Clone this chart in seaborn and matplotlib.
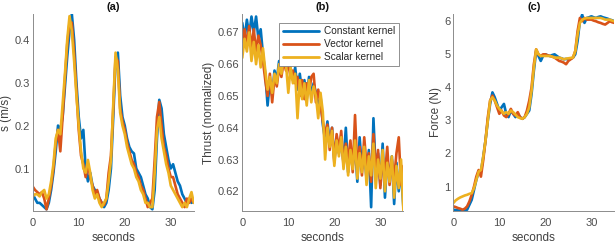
import numpy as np
import pandas as pd
import matplotlib
matplotlib.use("Agg")
import matplotlib.pyplot as plt
import seaborn as sns

# ---------------- data ----------------
time_s = np.arange(0, 35.01, 0.5)
series_names = ["Constant kernel", "Vector kernel", "Scalar kernel"]
colors = ["#0072BD", "#D95319", "#EDB120"]

# (a) speed s (m/s)
speed_constant = [0.040, 0.030, 0.020, 0.020, 0.015, 0.010, 0.005, 0.020, 0.050, 0.090,
                  0.140, 0.200, 0.190, 0.220, 0.290, 0.360, 0.420, 0.460, 0.400, 0.300,
                  0.220, 0.170, 0.190, 0.100, 0.070, 0.090, 0.060, 0.050, 0.045, 0.030,
                  0.020, 0.010, 0.020, 0.050, 0.100, 0.220, 0.350, 0.370, 0.270, 0.220,
                  0.200, 0.170, 0.150, 0.140, 0.135, 0.100, 0.090, 0.080, 0.060, 0.040,
                  0.030, 0.010, 0.005, 0.050, 0.170, 0.260, 0.240, 0.180, 0.150, 0.120,
                  0.100, 0.110, 0.090, 0.070, 0.060, 0.040, 0.030, 0.020, 0.030, 0.020,
                  0.025]
speed_vector = [0.058, 0.050, 0.045, 0.040, 0.045, 0.030, 0.005, 0.030, 0.060, 0.100,
                0.160, 0.190, 0.140, 0.220, 0.310, 0.390, 0.440, 0.440, 0.370, 0.280,
                0.190, 0.130, 0.110, 0.080, 0.110, 0.080, 0.060, 0.040, 0.050, 0.030,
                0.020, 0.015, 0.030, 0.090, 0.130, 0.240, 0.360, 0.350, 0.240, 0.210,
                0.190, 0.160, 0.140, 0.120, 0.110, 0.090, 0.080, 0.060, 0.050, 0.030,
                0.010, 0.020, 0.030, 0.120, 0.220, 0.255, 0.200, 0.150, 0.130, 0.100,
                0.080, 0.080, 0.060, 0.040, 0.030, 0.020, 0.010, 0.030, 0.020, 0.030,
                0.020]
speed_scalar = [0.035, 0.040, 0.040, 0.035, 0.045, 0.050, 0.030, 0.040, 0.070, 0.110,
                0.170, 0.190, 0.180, 0.250, 0.320, 0.400, 0.455, 0.420, 0.350, 0.270,
                0.200, 0.140, 0.100, 0.090, 0.120, 0.090, 0.050, 0.030, 0.040, 0.020,
                0.010, 0.020, 0.030, 0.070, 0.120, 0.250, 0.370, 0.330, 0.230, 0.200,
                0.180, 0.150, 0.130, 0.110, 0.100, 0.080, 0.070, 0.050, 0.040, 0.020,
                0.020, 0.010, 0.010, 0.090, 0.190, 0.220, 0.170, 0.140, 0.110, 0.090,
                0.060, 0.050, 0.040, 0.030, 0.020, 0.010, 0.020, 0.010, 0.030, 0.045,
                0.020]

# (b) thrust (normalized)
thrust_constant = [0.673, 0.668, 0.674, 0.669, 0.675, 0.670, 0.675, 0.668, 0.671, 0.663,
                   0.657, 0.647, 0.655, 0.650, 0.658, 0.655, 0.661, 0.658, 0.663, 0.659,
                   0.662, 0.658, 0.655, 0.659, 0.652, 0.657, 0.651, 0.655, 0.649, 0.656,
                   0.650, 0.654, 0.651, 0.646, 0.650, 0.641, 0.636, 0.642, 0.635, 0.640,
                   0.630, 0.637, 0.632, 0.636, 0.629, 0.640, 0.626, 0.634, 0.628, 0.635,
                   0.623, 0.637, 0.627, 0.632, 0.624, 0.633, 0.615, 0.643, 0.626, 0.632,
                   0.622, 0.635, 0.618, 0.630, 0.624, 0.631, 0.616, 0.629, 0.620, 0.627,
                   0.615]
thrust_vector = [0.667, 0.671, 0.666, 0.672, 0.665, 0.671, 0.664, 0.669, 0.666, 0.661,
                 0.655, 0.650, 0.657, 0.648, 0.656, 0.653, 0.659, 0.656, 0.661, 0.658,
                 0.660, 0.656, 0.658, 0.654, 0.656, 0.650, 0.655, 0.649, 0.654, 0.651,
                 0.656, 0.657, 0.648, 0.652, 0.647, 0.642, 0.638, 0.641, 0.633, 0.640,
                 0.629, 0.638, 0.633, 0.639, 0.628, 0.635, 0.630, 0.636, 0.626, 0.644,
                 0.627, 0.634, 0.625, 0.637, 0.628, 0.632, 0.623, 0.638, 0.626, 0.633,
                 0.621, 0.631, 0.625, 0.634, 0.622, 0.630, 0.624, 0.632, 0.637, 0.622,
                 0.628]
thrust_scalar = [0.662, 0.668, 0.664, 0.670, 0.661, 0.667, 0.660, 0.666, 0.659, 0.665,
                 0.658, 0.652, 0.656, 0.651, 0.657, 0.654, 0.660, 0.657, 0.662, 0.660,
                 0.651, 0.659, 0.654, 0.657, 0.643, 0.655, 0.649, 0.654, 0.647, 0.655,
                 0.648, 0.653, 0.650, 0.643, 0.651, 0.645, 0.630, 0.640, 0.634, 0.639,
                 0.628, 0.636, 0.631, 0.637, 0.627, 0.634, 0.625, 0.633, 0.627, 0.636,
                 0.624, 0.632, 0.626, 0.634, 0.622, 0.631, 0.625, 0.635, 0.621, 0.630,
                 0.624, 0.633, 0.620, 0.629, 0.623, 0.631, 0.618, 0.628, 0.621, 0.630,
                 0.614]

# (c) force (N)
force_constant = [0.30, 0.29, 0.28, 0.27, 0.27, 0.28, 0.30, 0.45, 0.60, 0.90,
                  1.20, 1.45, 1.45, 1.90, 2.40, 3.00, 3.50, 3.85, 3.70, 3.50,
                  3.30, 3.40, 3.50, 3.20, 3.10, 3.30, 3.20, 3.10, 3.20, 3.10,
                  3.05, 3.10, 3.20, 3.30, 3.80, 4.50, 5.10, 4.95, 4.80, 4.95,
                  5.00, 4.97, 4.95, 4.98, 5.00, 4.95, 4.90, 4.88, 4.85, 4.86,
                  4.85, 4.87, 4.90, 5.00, 5.40, 6.00, 6.20, 5.95, 6.10, 6.12,
                  6.15, 6.12, 6.10, 6.13, 6.15, 6.12, 6.10, 6.08, 6.05, 6.03,
                  6.00]
force_vector = [0.40, 0.38, 0.35, 0.33, 0.30, 0.33, 0.40, 0.55, 0.75, 1.00,
                1.30, 1.50, 1.30, 1.80, 2.40, 3.10, 3.60, 3.75, 3.60, 3.40,
                3.20, 3.30, 3.15, 3.10, 3.20, 3.35, 3.20, 3.15, 3.25, 3.10,
                3.05, 3.10, 3.30, 3.60, 4.00, 4.70, 5.15, 5.00, 4.95, 5.00,
                5.00, 4.97, 4.95, 4.93, 4.90, 4.85, 4.80, 4.78, 4.75, 4.70,
                4.80, 4.85, 4.90, 5.10, 5.70, 6.10, 6.00, 6.10, 6.05, 6.05,
                6.05, 6.02, 6.00, 5.97, 5.95, 5.92, 5.90, 5.95, 6.00, 5.97,
                5.95]
force_scalar = [0.50, 0.58, 0.63, 0.67, 0.70, 0.73, 0.75, 0.78, 0.80, 0.95,
                1.20, 1.45, 1.50, 1.90, 2.40, 3.00, 3.60, 3.70, 3.60, 3.45,
                3.35, 3.28, 3.20, 3.25, 3.20, 3.30, 3.25, 3.18, 3.10, 3.07,
                3.05, 3.10, 3.20, 3.40, 3.90, 4.60, 5.15, 5.00, 4.95, 4.95,
                4.95, 4.95, 4.95, 4.93, 4.90, 4.90, 4.90, 4.88, 4.85, 4.87,
                4.88, 4.89, 4.90, 5.10, 5.60, 5.95, 6.05, 6.08, 6.10, 6.10,
                6.10, 6.10, 6.10, 6.10, 6.10, 6.08, 6.05, 6.05, 6.05, 6.02,
                6.00]

x_ticks = [0, 10, 20, 30]
panels = [
    dict(title="(a)", ylabel="s (m/s)", series=[speed_constant, speed_vector, speed_scalar],
         ylim=(0.001, 0.46), yticks=[0.1, 0.2, 0.3, 0.4], yfmt="{:.1f}", legend=False),
    dict(title="(b)", ylabel="Thrust (normalized)", series=[thrust_constant, thrust_vector, thrust_scalar],
         ylim=(0.6138, 0.6758), yticks=[0.62, 0.63, 0.64, 0.65, 0.66, 0.67], yfmt="{:.2f}", legend=True),
    dict(title="(c)", ylabel="Force (N)", series=[force_constant, force_vector, force_scalar],
         ylim=(0.26, 6.22), yticks=[1, 2, 3, 4, 5, 6], yfmt="{:d}", legend=False),
]

# ---------------- style ----------------
sns.set_style("white")
plt.rcParams["font.family"] = ["Liberation Sans", "DejaVu Sans"]
plt.rcParams["font.size"] = 8

fig = plt.figure(figsize=(6.16, 2.43), dpi=100)
lefts = [0.0531, 0.3933, 0.7359]
bottom, height, width = 0.1317, 0.8107, 0.2615

tick_col = "#4d4d4d"
spine_col = "#8c8c8c"

for left, p in zip(lefts, panels):
    ax = fig.add_axes([left, bottom, width, height])
    df = pd.DataFrame({
        "time": np.concatenate([time_s] * 3),
        "value": np.concatenate([np.asarray(s) for s in p["series"]]),
        "kernel": np.repeat(series_names, len(time_s)),
    })
    sns.lineplot(data=df, x="time", y="value", hue="kernel", hue_order=series_names,
                 palette=colors, linewidth=1.9, ax=ax, legend=p["legend"],
                 estimator=None, sort=False)
    ax.set_xlim(0, 35)
    ax.set_ylim(*p["ylim"])
    ax.set_xticks(x_ticks)
    ax.set_yticks(p["yticks"])
    ax.set_yticklabels([p["yfmt"].format(v) for v in p["yticks"]])
    ax.set_xlabel("seconds", fontsize=8.5, color="#404040", labelpad=3)
    ax.set_ylabel(p["ylabel"], fontsize=8.5, color="#404040", labelpad=2)
    ax.set_title(p["title"], fontsize=8, fontweight="bold", pad=3, color="#111111")
    for side in ["top", "right"]:
        ax.spines[side].set_visible(False)
    for side in ["left", "bottom"]:
        ax.spines[side].set_color(spine_col)
        ax.spines[side].set_linewidth(0.7)
    ax.tick_params(direction="in", length=2.5, width=0.6, colors=spine_col,
                   labelcolor=tick_col, labelsize=8, pad=2)
    ax.tick_params(axis="x", pad=5)
    if p["legend"]:
        leg = ax.legend(loc="upper left", bbox_to_anchor=(0.23, 0.955), fontsize=7.3,
                        frameon=True, fancybox=False, framealpha=1, edgecolor="#7f7f7f",
                        handlelength=3.6, handletextpad=0.5, borderpad=0.35,
                        labelspacing=0.3, borderaxespad=0)
        leg.get_frame().set_linewidth(0.6)
        for line in leg.get_lines():
            line.set_linewidth(2.0)

fig.savefig("out.png", dpi=100)
